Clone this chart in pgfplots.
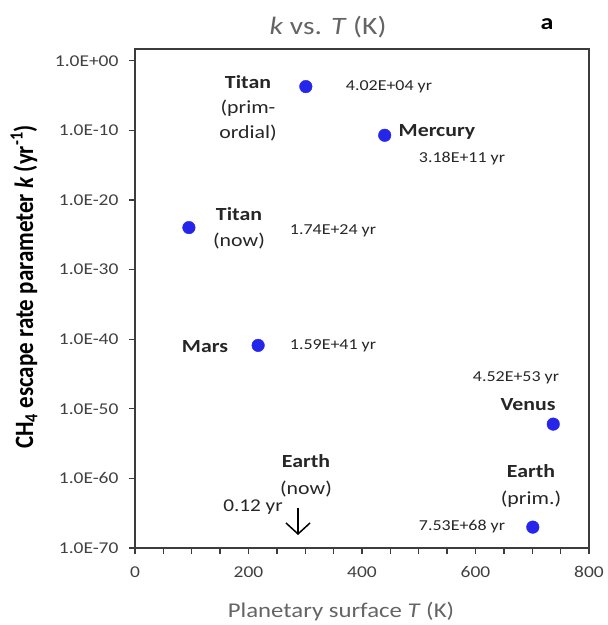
\documentclass[border=0pt]{standalone}
\usepackage{fontspec}
\setmainfont{Carlito}
\newfontfamily\wide{Carlito}[FakeStretch=1.18]
\usepackage{pgfplots}
\pgfplotsset{compat=1.18}
\usetikzlibrary{arrows.meta}
\definecolor{dotblue}{RGB}{38,38,235}
\definecolor{tickgray}{RGB}{64,64,64}
\definecolor{titlegray}{RGB}{100,100,100}
\definecolor{axisgray}{RGB}{60,60,60}
\newcommand{\fs}[2]{\fontsize{#1bp}{#2bp}\selectfont}
\begin{document}
\begin{tikzpicture}
\begin{axis}[
  scale only axis, width=454bp, height=499bp,
  xmin=0, xmax=800, ymode=log, ymin=1e-70, ymax=50,
  xtick={0,200,400,600,800},
  xticklabels={0,200,400,600,800},
  minor xtick={50,100,150,250,300,350,450,500,550,650,700,750},
  ytick={1e-70,1e-60,1e-50,1e-40,1e-30,1e-20,1e-10,1},
  yticklabels={1.0E-70,1.0E-60,1.0E-50,1.0E-40,1.0E-30,1.0E-20,1.0E-10,1.0E+00},
  /pgf/number format/assume math mode=true,
  yminorticks=false,
  tick align=outside, xtick pos=bottom, ytick pos=left,
  major tick length=6bp, minor tick length=6bp,
  axis line style={axisgray, line width=1.6bp},
  every tick/.style={axisgray, line width=1.3bp},
  minor tick style={axisgray, line width=1.3bp},
  ticklabel style={font=\wide\fs{16.5}{19}, text=tickgray},
  yticklabel style={xshift=-7bp},
  xticklabel style={yshift=-9bp},
  clip=false,
]
\addplot[only marks, mark=*, mark size=6.3bp, dotblue, mark options={draw=dotblue, fill=dotblue}] coordinates {
  (301, 2.0e-4)
  (440, 2.0e-11)
  (95, 1.1e-24)
  (217, 1.3e-41)
  (737, 6.3e-53)
  (701, 1.0e-67)
};
\end{axis}
% title and panel letter
\node[inner sep=0, text=titlegray, font=\wide\fs{25}{28}] at (193bp,521bp) {\textit{k} vs. \textit{T} (K)};
\node[inner sep=0, font=\wide\fs{22}{26}\bfseries] at (412bp,524bp) {a};
% axis labels
\node[inner sep=0, text=titlegray, font=\wide\fs{21}{24}] at (206bp,-64bp) {Planetary surface \textit{T} (K)};
\node[inner sep=0, rotate=90, yscale=1.15, font=\fs{23}{26}\bfseries] at (-111bp,261bp) {CH\textsubscript{4} escape rate parameter \textit{k} (yr\textsuperscript{-1})};
% annotations
\node[inner sep=0, align=center, font=\wide\fs{18.5}{25}, text=black!85] at (113bp,440bp) {\textbf{Titan}\\(prim-\\ordial)};
\node[inner sep=0, font=\wide\fs{15.2}{18}, text=black!85] at (254bp,461bp) {4.02E+04 yr};
\node[inner sep=0, font=\wide\fs{18.5}{22}\bfseries, text=black!85] at (302bp,416bp) {Mercury};
\node[inner sep=0, font=\wide\fs{15.2}{18}, text=black!85] at (327bp,389bp) {3.18E+11 yr};
\node[inner sep=0, align=center, font=\wide\fs{18.5}{26}, text=black!85] at (104bp,320bp) {\textbf{Titan}\\(now)};
\node[inner sep=0, font=\wide\fs{15.2}{18}, text=black!85] at (198bp,317bp) {1.74E+24 yr};
\node[inner sep=0, font=\wide\fs{18.5}{22}\bfseries, text=black!85] at (70bp,201bp) {Mars};
\node[inner sep=0, font=\wide\fs{15.2}{18}, text=black!85] at (198bp,202bp) {1.59E+41 yr};
\node[inner sep=0, font=\wide\fs{15.2}{18}, text=black!85] at (381bp,170bp) {4.52E+53 yr};
\node[inner sep=0, font=\wide\fs{18.5}{22}\bfseries, text=black!85] at (393bp,143bp) {Venus};
\node[inner sep=0, align=center, font=\wide\fs{18.5}{27}, text=black!85] at (171bp,72bp) {\textbf{Earth}\\(now)};
\node[inner sep=0, font=\wide\fs{18}{22}, text=black!85] at (118bp,41bp) {0.12 yr};
\draw[-{Straight Barb[length=11bp,width=24bp]}, line width=1.5bp, black] (163bp,40bp) -- (163bp,13bp);
\node[inner sep=0, align=center, font=\wide\fs{18.5}{27}, text=black!85] at (396bp,62bp) {\textbf{Earth}\\(prim.)};
\node[inner sep=0, font=\wide\fs{15.2}{18}, text=black!85] at (327bp,21bp) {7.53E+68 yr};
\pgfresetboundingbox
\path[use as bounding box] (-135bp,-77bp) rectangle (473bp,548bp);
\end{tikzpicture}
\end{document}
